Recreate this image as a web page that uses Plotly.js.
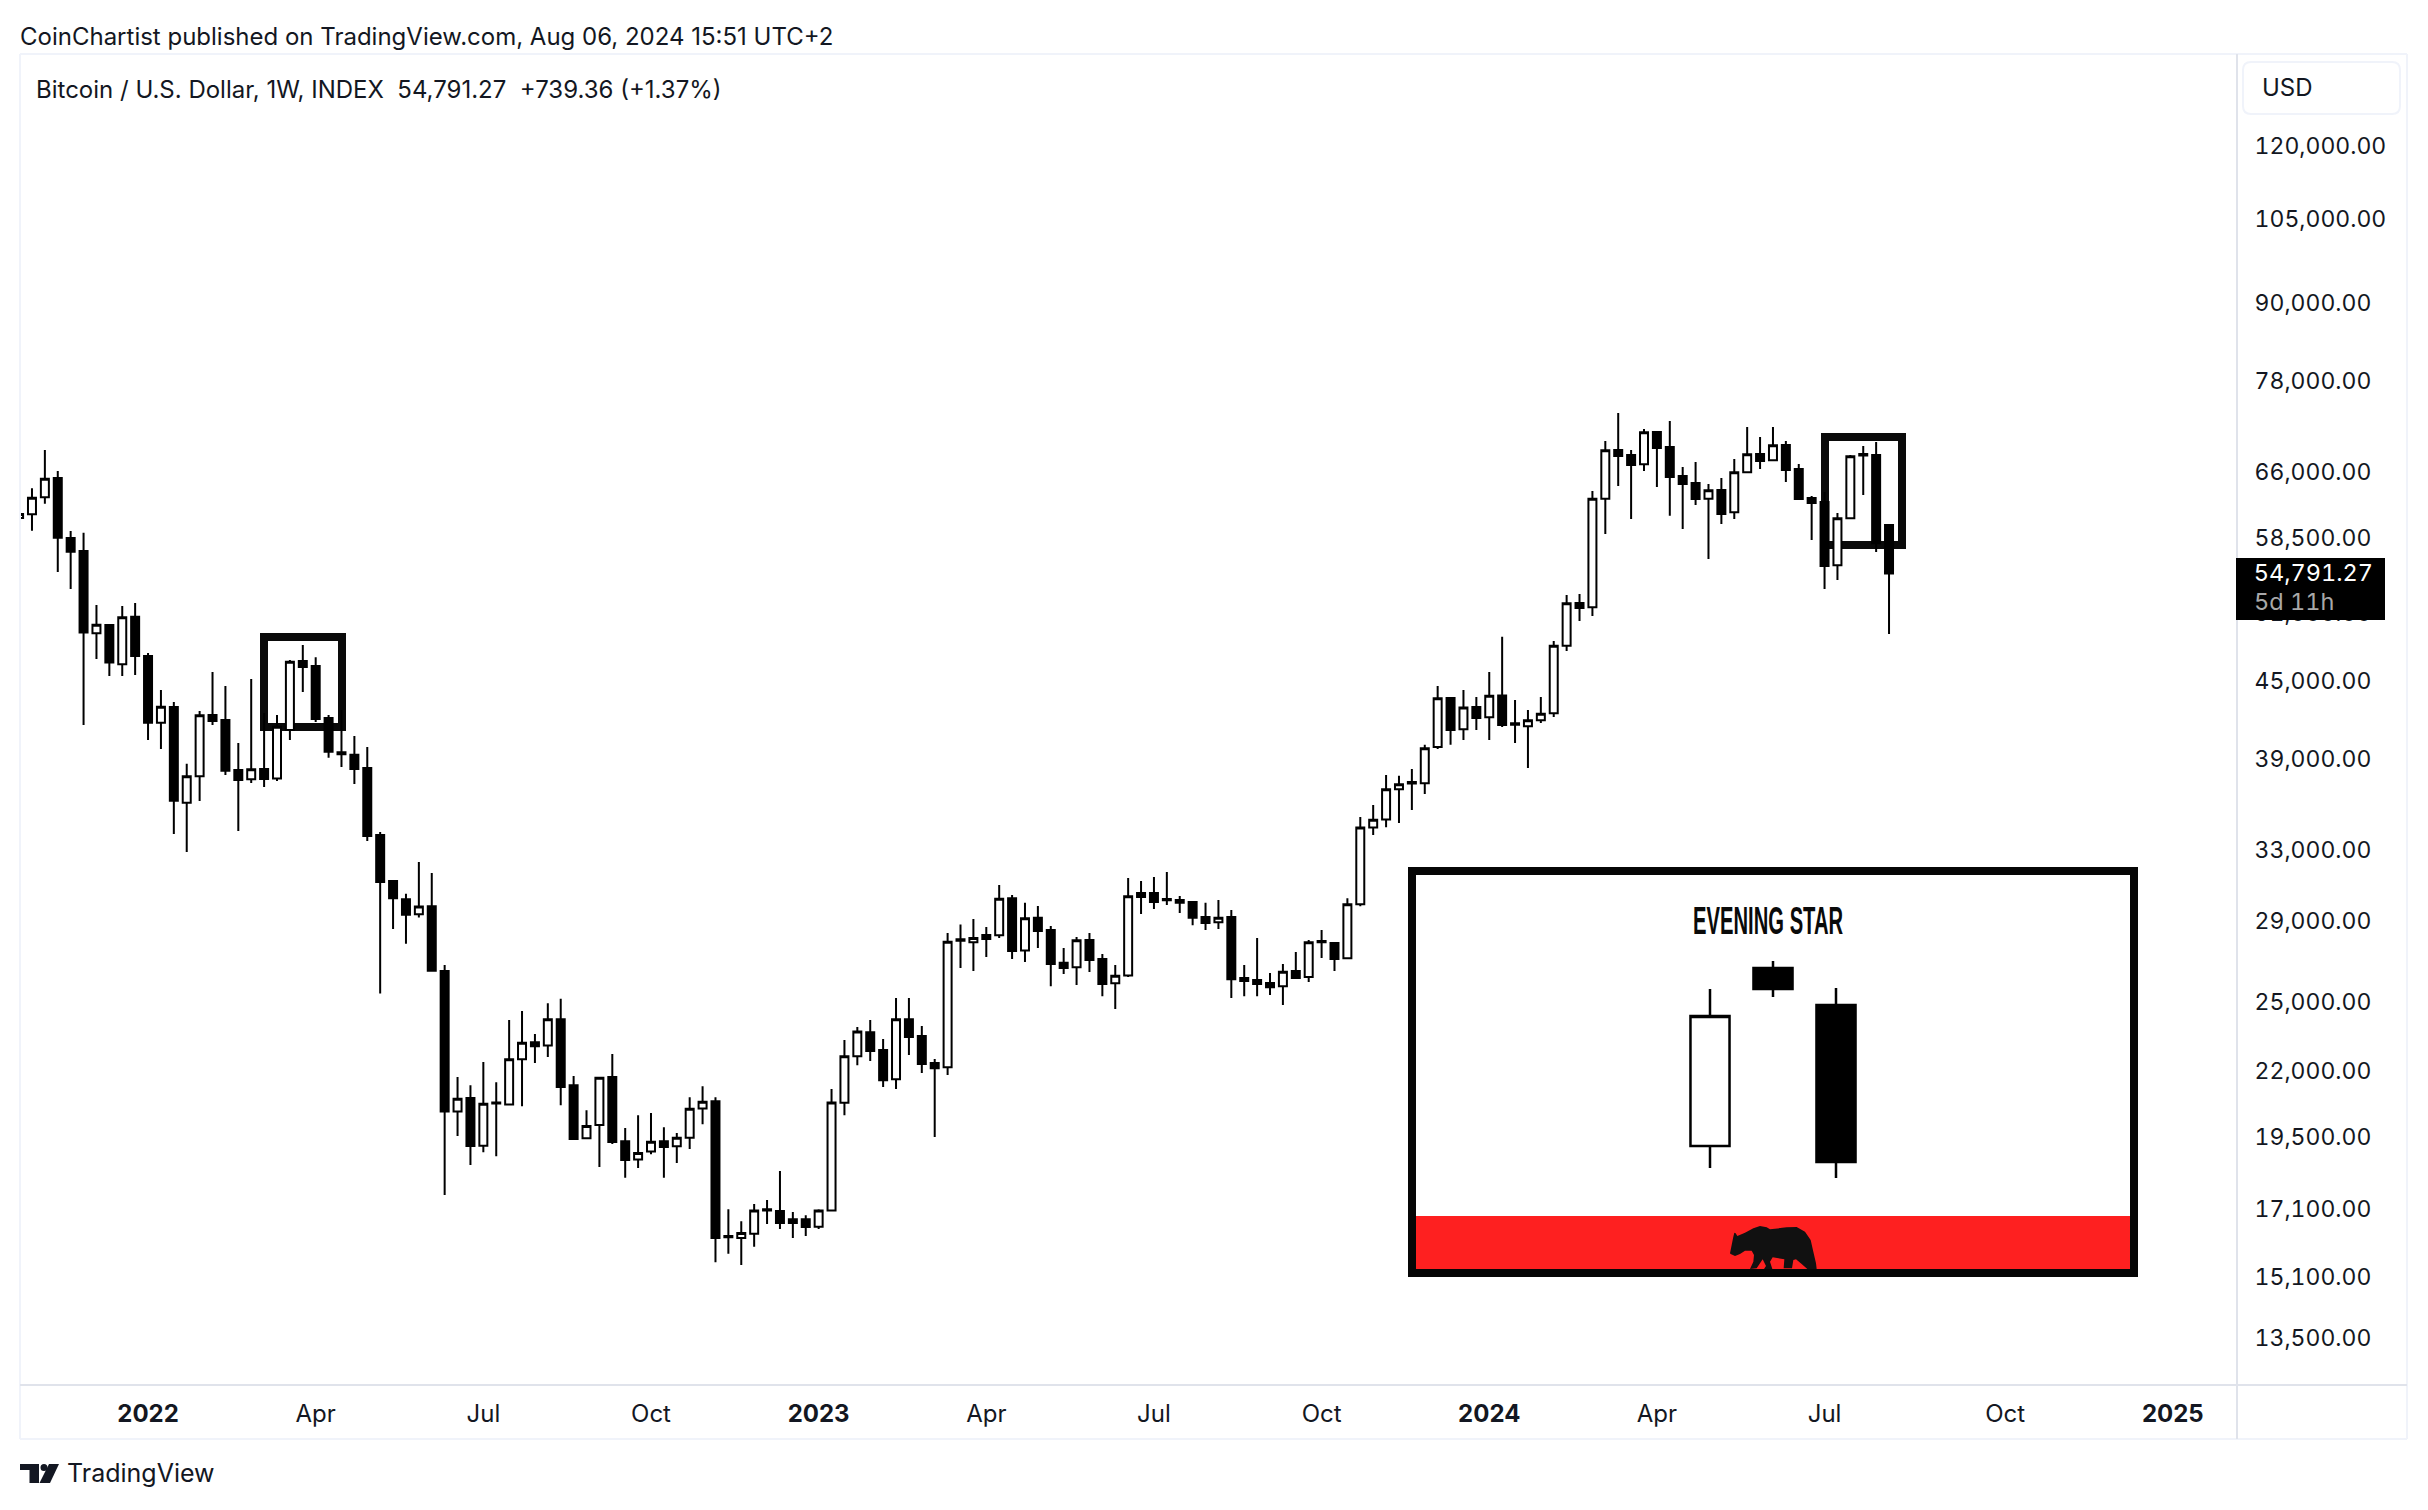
<!DOCTYPE html>
<html>
<head>
<meta charset="utf-8">
<script src="https://cdn.plot.ly/plotly-3.0.1.min.js"></script>
<style>html,body{margin:0;padding:0;background:#fff}#chart{width:2428px;height:1510px}
.ytick text{font-feature-settings:"tnum" 1}</style>
</head>
<body>
<div id="chart"></div>
<script>
const weeks = ['2021-10-25','2021-11-01','2021-11-08','2021-11-15','2021-11-22','2021-11-29','2021-12-06','2021-12-13','2021-12-20','2021-12-27',
'2022-01-03','2022-01-10','2022-01-17','2022-01-24','2022-01-31','2022-02-07','2022-02-14','2022-02-21','2022-02-28','2022-03-07','2022-03-14','2022-03-21','2022-03-28','2022-04-04','2022-04-11','2022-04-18','2022-04-25','2022-05-02','2022-05-09','2022-05-16','2022-05-23','2022-05-30','2022-06-06','2022-06-13','2022-06-20','2022-06-27','2022-07-04','2022-07-11','2022-07-18','2022-07-25','2022-08-01','2022-08-08','2022-08-15','2022-08-22','2022-08-29','2022-09-05','2022-09-12','2022-09-19','2022-09-26','2022-10-03','2022-10-10','2022-10-17','2022-10-24','2022-10-31','2022-11-07','2022-11-14','2022-11-21','2022-11-28','2022-12-05','2022-12-12','2022-12-19','2022-12-26',
'2023-01-02','2023-01-09','2023-01-16','2023-01-23','2023-01-30','2023-02-06','2023-02-13','2023-02-20','2023-02-27','2023-03-06','2023-03-13','2023-03-20','2023-03-27','2023-04-03','2023-04-10','2023-04-17','2023-04-24','2023-05-01','2023-05-08','2023-05-15','2023-05-22','2023-05-29','2023-06-05','2023-06-12','2023-06-19','2023-06-26','2023-07-03','2023-07-10','2023-07-17','2023-07-24','2023-07-31','2023-08-07','2023-08-14','2023-08-21','2023-08-28','2023-09-04','2023-09-11','2023-09-18','2023-09-25','2023-10-02','2023-10-09','2023-10-16','2023-10-23','2023-10-30','2023-11-06','2023-11-13','2023-11-20','2023-11-27','2023-12-04','2023-12-11','2023-12-18','2023-12-25',
'2024-01-01','2024-01-08','2024-01-15','2024-01-22','2024-01-29','2024-02-05','2024-02-12','2024-02-19','2024-02-26','2024-03-04','2024-03-11','2024-03-18','2024-03-25','2024-04-01','2024-04-08','2024-04-15','2024-04-22','2024-04-29','2024-05-06','2024-05-13','2024-05-20','2024-05-27','2024-06-03','2024-06-10','2024-06-17','2024-06-24','2024-07-01','2024-07-08','2024-07-15','2024-07-22','2024-07-29','2024-08-05'];

const opens = [60650,61070,63000,65250,58480,57100,49100,49850,46390,50600,
47100,41680,42890,35990,37780,42270,41890,38220,37580,38290,
37620,41130,46670,46250,42040,39490,39300,38360,33930,31180,
30160,29340,29770,26440,20440,20950,19200,20740,20700,22490,
23210,23070,24210,21450,19460,19940,21770,19360,18720,19000,
19360,19180,19480,20550,20830,16270,16210,16340,17050,17030,
16780,16780,16550,17050,20770,22620,23640,22880,21680,24210,
23470,22340,22170,27950,27870,28250,28230,30220,27460,29150,
28510,26840,26620,27990,27030,25850,26230,30500,30500,30170,
30120,30010,29190,28910,29190,26110,26010,25870,25710,26440,
26150,27870,27840,27070,29880,34400,34910,36890,37280,37300,
39860,43610,41180,42890,42100,43810,41530,41410,41870,42400,
48000,51900,51490,62840,68700,68070,66930,71010,69080,65500,
64670,62840,63850,61290,65950,68210,67410,69340,66350,62920,
62460,55620,60620,68000,68070,59880];

const highs = [61320,64040,68700,66110,59230,59020,51720,49950,51620,51900,
47360,44260,43290,38650,42580,45740,44570,40160,45150,42430,
42270,46760,48060,47000,42270,42660,40670,39870,34110,31180,
30460,32290,31640,26730,21770,21450,22380,21570,24170,24570,
23560,24930,25130,21810,20490,21740,22710,19830,20300,20380,
19860,19650,20980,21410,20980,17090,16720,17250,17380,18330,
17000,16900,17090,21300,23300,23860,24170,23340,25170,25170,
23910,22500,28350,28800,29080,28660,30950,30390,29960,29790,
28710,27580,28140,28350,27280,26730,31350,31180,31410,31710,
30340,30010,29960,30120,29570,26730,28090,26350,26790,27380,
27990,28510,27890,30220,35060,35840,37870,37810,38290,40020,
44570,43690,44260,43690,45740,48780,43450,42660,43690,48410,
52670,52770,63730,69840,73510,68700,71400,71010,72450,66590,
67200,64550,65270,67570,71660,70360,71660,69840,66960,63150,
63620,61210,68070,69200,69720,59880];

const lows = [60430,59260,62260,54940,53250,41510,46850,45410,45410,45490,
40380,39720,33990,32880,36100,41510,37870,34180,37320,37040,
37460,40380,44100,41740,39080,38430,37250,33560,25370,28560,
27800,29160,26450,17540,19540,18530,18970,18830,20700,20640,
22340,22590,20680,19440,19460,18460,19260,18100,18430,18900,
18100,18600,19080,19970,15510,15750,15430,15950,16630,16480,
16210,16270,16480,17050,20300,22250,22420,21380,21300,22670,
21930,19510,21850,26590,26440,27130,28090,27030,26880,27580,
25720,26300,25770,26390,25250,24660,26150,29350,29630,29840,
29410,28760,28510,28560,25170,25250,25250,25300,24840,26060,
25920,27080,26440,27070,29770,33930,34420,34680,35520,36570,
39720,40020,40380,41130,40380,41360,40160,38360,41660,42110,
47530,50220,50690,58910,64320,60540,66110,64200,60890,59450,
62120,56260,59990,60540,65950,66350,67410,64790,62800,58260,
53250,54140,60620,63270,56990,49040];

const closes = [61110,62950,65180,58500,57020,49160,49880,46530,50570,47100,
41680,42920,36120,37780,42250,41810,38170,37530,38270,37600,
41370,46610,46160,41960,39510,39340,38290,33870,31130,30220,
29320,29760,26450,20440,20920,19190,20730,20780,22490,23190,
23040,24200,21380,19440,19900,21740,19330,18700,18940,19340,
19150,19480,20540,20810,16210,16230,16360,17050,17090,16660,
16660,16540,17050,20780,22620,23670,22840,21650,24200,23430,
22300,22130,27900,28030,28090,28040,30190,27430,29130,28460,
26790,26590,27970,26980,25820,26210,30320,30280,30010,30100,
29970,29150,28870,29150,26050,25960,25820,25670,26410,26110,
27870,27940,27030,29880,34400,34890,36890,37230,37390,39770,
43590,41130,42860,42040,43790,41510,41640,41870,42370,48000,
51880,51430,62840,68660,67950,66840,70970,68950,65390,64550,
62800,63810,61100,65950,68160,67330,69290,66230,62800,62340,
55540,60620,67910,68210,57910,54791.27];

const priceTicks = [120000,105000,90000,78000,66000,58500,51000,45000,39000,33000,29000,25000,22000,19500,17100,15100,13500];
const timeTicks = ['2022-01-03','2022-04-04','2022-07-04','2022-10-03','2023-01-02','2023-04-03','2023-07-03','2023-10-02','2024-01-01','2024-04-01','2024-07-01','2024-10-07','2025-01-06'];
const timeLabels = ['<b>2022</b>','Apr','Jul','Oct','<b>2023</b>','Apr','Jul','Oct','<b>2024</b>','Apr','Jul','Oct','<b>2025</b>'];

const insetPos = [0,1,2];
const insetOpen = [44,222,185];
const insetHigh = [201,229,202];
const insetLow = [22,193,12];
const insetClose = [174,201,28];

const W = 2428, H = 1510, L = 20, R = 2237, T = 54, B = 1385;
const X = p => (p - L) / (R - L);
const Y = p => (B - p) / (B - T);
const FONT = 'Inter, sans-serif', INK = '#131722';

const candle = {type:'candlestick', x:weeks, open:opens, high:highs, low:lows, close:closes,
  whiskerwidth:0, hoverinfo:'skip', showlegend:false,
  increasing:{line:{color:'#000',width:2}, fillcolor:'#fff'},
  decreasing:{line:{color:'#000',width:2}, fillcolor:'#000'}};
const inset = {type:'candlestick', x:insetPos, open:insetOpen, high:insetHigh, low:insetLow, close:insetClose,
  xaxis:'x2', yaxis:'y2', whiskerwidth:0, hoverinfo:'skip', showlegend:false,
  increasing:{line:{color:'#000',width:2.5}, fillcolor:'#fff'},
  decreasing:{line:{color:'#000',width:2.5}, fillcolor:'#000'}};

const rect = (x0,y0,x1,y1,o) => Object.assign({type:'rect',xref:'paper',yref:'paper',x0:X(x0),x1:X(x1),y0:Y(y1),y1:Y(y0),layer:'below'},o);
const hline = (x0,x1,y,c) => ({type:'line',xref:'paper',yref:'paper',x0:X(x0),x1:X(x1),y0:Y(y),y1:Y(y),line:{color:c,width:2},layer:'above'});
const vline = (x,y0,y1,c) => ({type:'line',xref:'paper',yref:'paper',x0:X(x),x1:X(x),y0:Y(y0),y1:Y(y1),line:{color:c,width:2},layer:'above'});
const poly = (pts,c,layer) => ({type:'path',xref:'paper',yref:'paper',layer:layer||'above',line:{width:0},fillcolor:c,
  path:'M'+pts.map(q=>X(q[0]).toFixed(6)+','+Y(q[1]).toFixed(6)).join(' L')+' Z'});

const bearOutline = [[120,220],[125,195],[130,170],[133,158],[137,160],[142,168],[165,158],[190,145],[210,138],[230,142],[240,148],[290,142],[320,141],[345,155],[362,180],[370,215],[378,250],[380,267],[352,267],[335,252],[318,238],[310,240],[306,265],[281,265],[283,238],[248,232],[240,245],[247,267],[222,267],[228,258],[218,238],[210,250],[200,265],[180,267],[190,245],[192,225],[185,212],[165,212],[150,222],[135,228],[122,222]];
const bear = bearOutline.map(q=>[1690+q[0]/3,1180+q[1]/3]);

const shapes = [
  hline(20,2407,54,'#f0f3fa'), hline(20,2407,1439,'#f0f3fa'),
  vline(20,54,1439,'#f0f3fa'), vline(2407,54,1439,'#f0f3fa'),
  hline(20,2407,1385,'#e0e3eb'), vline(2237,54,1439,'#e0e3eb'),
  rect(264,637,342,727,{line:{color:'#0a0a0a',width:8}}),
  rect(1825,437,1902,545,{line:{color:'#0a0a0a',width:8}}),
  rect(1416,875,2131,1269,{fillcolor:'#fff',line:{width:0}}),
  rect(1416,1216,2131,1269,{fillcolor:'#fe2020',line:{width:0}}),
  rect(1412,871,2134,1273,{line:{color:'#060606',width:8}}),
  poly(bear,'#111111'),
  {type:'path',xref:'paper',yref:'paper',layer:'above',line:{color:'#f0f3fa',width:2},fillcolor:'#fff',
   path:`M${X(2251)},${Y(62)} L${X(2392)},${Y(62)} Q${X(2400)},${Y(62)} ${X(2400)},${Y(70)} L${X(2400)},${Y(106)} Q${X(2400)},${Y(114)} ${X(2392)},${Y(114)} L${X(2251)},${Y(114)} Q${X(2243)},${Y(114)} ${X(2243)},${Y(106)} L${X(2243)},${Y(70)} Q${X(2243)},${Y(62)} ${X(2251)},${Y(62)} Z`},
  rect(2236,558,2385,620,{fillcolor:'#000',line:{width:0},layer:'above'}),
  poly([[20,1464],[39,1464],[39,1483],[29.5,1483],[29.5,1470],[20,1470]],INK),
  poly([[49,1464],[59,1464],[50,1483],[39.5,1483]],INK),
  {type:'circle',xref:'paper',yref:'paper',layer:'above',x0:X(40.5),x1:X(47.5),y0:Y(1471),y1:Y(1464),fillcolor:INK,line:{width:0}}
];

const note = (text,x,y,size,color,extra) => Object.assign({text:text,xref:'paper',yref:'paper',x:X(x),y:Y(y),showarrow:false,
  xanchor:'left',yanchor:'middle',font:{family:FONT,size:size,color:color}},extra||{});

const annotations = [
  note('CoinChartist published on TradingView.com, Aug 06, 2024 15:51 UTC+2',18,36,24,INK),
  note('Bitcoin / U.S. Dollar, 1W, INDEX&nbsp;&nbsp;54,791.27&nbsp;&nbsp;+739.36 (+1.37%)',34,90,24,INK),
  note('USD',2260,88,24,INK),
  note('54,791.27',2258,572,23.5,'#ffffff'),
  note('5d 11h',2258,601,23.5,'#a8a8a8'),
  note('TradingView',65,1473,25,INK),
  {text:'EVENING STAR',xref:'paper',yref:'paper',x:X(1768),y:Y(921),showarrow:false,xanchor:'center',yanchor:'middle',
   font:{family:'"Liberation Sans", sans-serif',size:38,weight:700,color:'#0a0a0a'}}
];

const layout = {
  width:W, height:H, paper_bgcolor:'#fff', plot_bgcolor:'rgba(0,0,0,0)',
  margin:{l:L, r:W-R, t:T, b:H-B, pad:0}, showlegend:false, boxmode:'overlay', boxgap:0.38, boxgroupgap:0,
  xaxis:{type:'date', domain:[0,1], range:['2021-10-25 12:00','2025-02-09 21:00'], rangeslider:{visible:false},
    tickmode:'array', tickvals:timeTicks, ticktext:timeLabels, showgrid:false, zeroline:false, showline:false,
    ticks:'outside', ticklen:7, tickcolor:'rgba(0,0,0,0)', tickfont:{family:FONT,size:24,color:INK}, fixedrange:true},
  yaxis:{type:'log', side:'right', domain:[0,1], range:[Math.log10(12383),Math.log10(141940)],
    tickmode:'array', tickvals:priceTicks, ticktext:priceTicks.map(v=>v.toLocaleString('en-US',{minimumFractionDigits:2})),
    showgrid:false, zeroline:false, showline:false, ticks:'outside', ticklen:12, tickcolor:'rgba(0,0,0,0)',
    tickfont:{family:FONT,size:23,color:INK}, fixedrange:true},
  xaxis2:{domain:[X(1647),X(1899)], range:[-1,3], anchor:'y2', visible:false, rangeslider:{visible:false}, fixedrange:true},
  yaxis2:{domain:[Y(1190),Y(950)], range:[0,240], anchor:'x2', visible:false, fixedrange:true},
  shapes:shapes, annotations:annotations
};

Plotly.newPlot('chart',[candle,inset],layout,{staticPlot:true,displayModeBar:false}).then(() => {
  document.querySelectorAll('.annotation-text').forEach(t => {
    const s = t.textContent;
    if (s === 'EVENING STAR') {
      t.setAttribute('textLength','150');
      t.setAttribute('lengthAdjust','spacingAndGlyphs');
    } else if (s === '54,791.27' || s === '5d 11h') {
      t.style.fontFeatureSettings = '"tnum" 1';
    }
  });
});
</script>
</body>
</html>
